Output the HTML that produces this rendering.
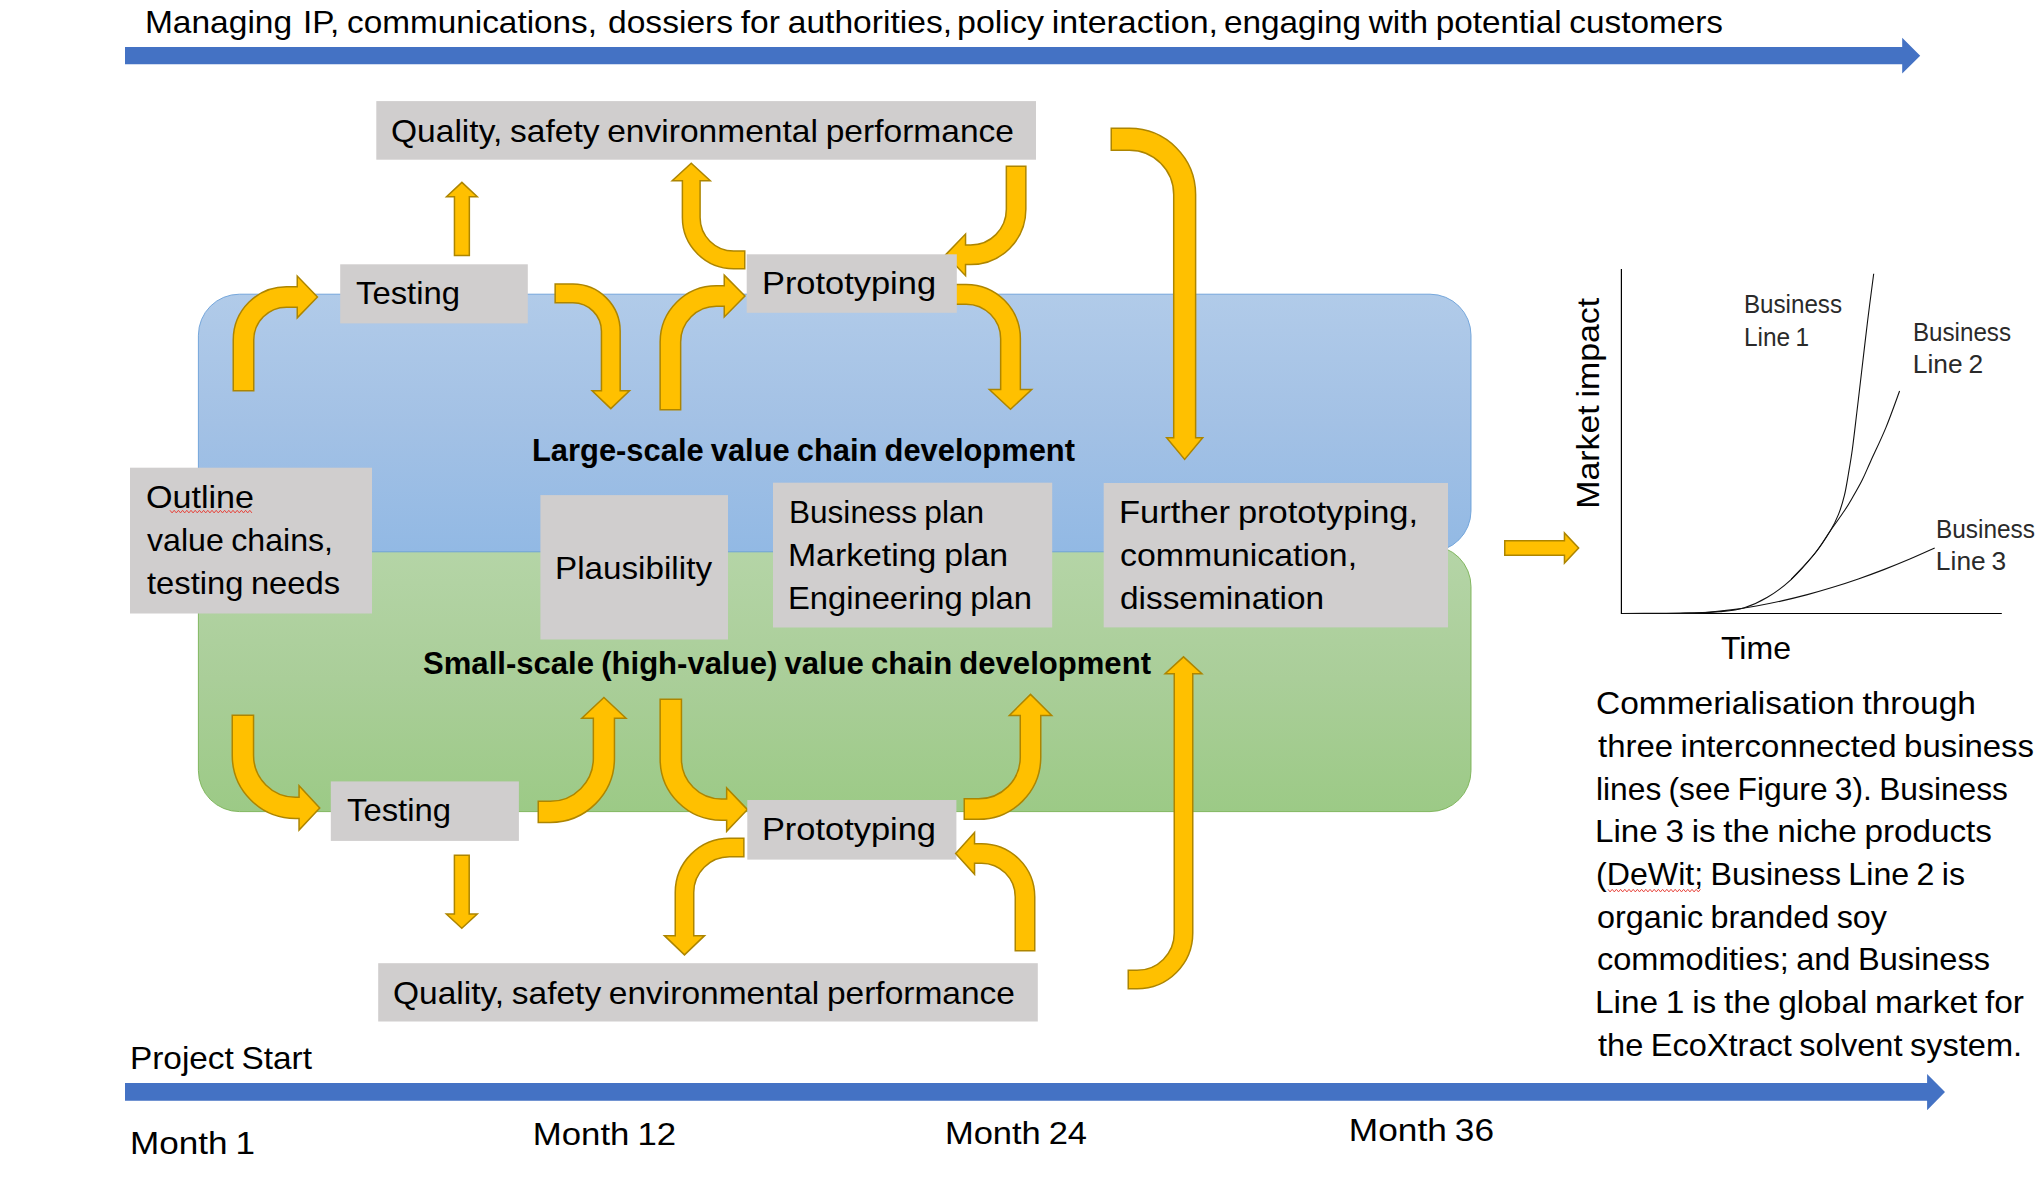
<!DOCTYPE html>
<html lang="en"><head><meta charset="utf-8"><title>Value chain development roadmap</title>
<style>html,body{margin:0;padding:0;background:#fff}body{width:2038px;height:1181px;overflow:hidden}svg{display:block}text{font-family:"Liberation Sans",sans-serif;fill:#000;word-spacing:-1.5px}.lb{fill:#2a2a2a}</style></head><body>
<svg width="2038" height="1181" viewBox="0 0 2038 1181">
<defs><linearGradient id="gb" x1="0" y1="0" x2="0" y2="1"><stop offset="0" stop-color="#B1CBE9"/><stop offset="0.5" stop-color="#A3C1E5"/><stop offset="1" stop-color="#92B9E4"/></linearGradient><linearGradient id="gg" x1="0" y1="0" x2="0" y2="1"><stop offset="0" stop-color="#B5D5A7"/><stop offset="0.5" stop-color="#AACE99"/><stop offset="1" stop-color="#9CCA86"/></linearGradient></defs>
<rect width="2038" height="1181" fill="#fff"/>
<rect x="198.4" y="545.6" width="1272.6" height="266" rx="41" ry="41" fill="url(#gg)" stroke="#78B153" stroke-width="0.9"/>
<rect x="198.4" y="294.2" width="1272.6" height="257.6" rx="41" ry="41" fill="url(#gb)" stroke="#6A9FD8" stroke-width="0.9"/>
<path d="M125 47.1H1902.2V37.7L1920.2 55.7L1902.2 73.6V64.3H125Z" fill="#4472C4"/>
<path d="M125 1083H1927.1V1073.9L1945 1092.1L1927.1 1110.2V1100.8H125Z" fill="#4472C4"/>
<g fill="#FFC000" stroke="#AD8500" stroke-width="1.5" stroke-linejoin="miter">
<path d="M233.25 390.65 L233.25 339.99 A53.25 53.25 0 0 1 286.5 286.74 L297.25 286.74 L297.25 276.1 L317.44 296.99 L297.25 317.88 L297.25 307.24 L286.5 307.24 A32.75 32.75 0 0 0 253.75 339.99 L253.75 390.65 Z"/>
<path d="M555.15 284.05 L572.91 284.05 A47.25 47.25 0 0 1 620.16 331.3 L620.16 390.75 L629.5 390.75 L610.81 408.64 L592.12 390.75 L601.46 390.75 L601.46 331.3 A28.55 28.55 0 0 0 572.91 302.75 L555.15 302.75 Z"/>
<path d="M660.15 409.65 L660.15 342.04 A56.25 56.25 0 0 1 716.4 285.79 L724.25 285.79 L724.25 275.1 L744.94 296.04 L724.25 316.98 L724.25 306.29 L716.4 306.29 A35.75 35.75 0 0 0 680.65 342.04 L680.65 409.65 Z"/>
<path d="M744.75 268.75 L733.64 268.75 A51.25 51.25 0 0 1 682.39 217.5 L682.39 180.75 L672.2 180.75 L691.24 163.26 L710.27 180.75 L700.09 180.75 L700.09 217.5 A33.55 33.55 0 0 0 733.64 251.05 L744.75 251.05 Z"/>
<path d="M1025.85 166.35 L1025.85 209.36 A55.25 55.25 0 0 1 970.6 264.61 L965.55 264.61 L965.55 275.7 L945.56 254.86 L965.55 234.02 L965.55 245.11 L970.6 245.11 A35.75 35.75 0 0 0 1006.35 209.36 L1006.35 166.35 Z"/>
<path d="M950.75 284.45 L966.11 284.45 A54.25 54.25 0 0 1 1020.36 338.7 L1020.36 389.45 L1031.7 389.45 L1010.51 409.24 L989.33 389.45 L1000.66 389.45 L1000.66 338.7 A34.55 34.55 0 0 0 966.11 304.15 L950.75 304.15 Z"/>
<path d="M1111.25 128.35 L1129.36 128.35 A66.25 66.25 0 0 1 1195.61 194.6 L1195.61 437.75 L1202.7 437.75 L1184.66 459.44 L1166.62 437.75 L1173.71 437.75 L1173.71 194.6 A44.35 44.35 0 0 0 1129.36 150.25 L1111.25 150.25 Z"/>
<path d="M232.25 715.25 L232.25 755.31 A63.25 63.25 0 0 0 295.5 818.56 L299.05 818.56 L299.05 830.1 L319.74 807.91 L299.05 785.73 L299.05 797.26 L295.5 797.26 A41.95 41.95 0 0 1 253.55 755.31 L253.55 715.25 Z"/>
<path d="M538.25 822.45 L550.21 822.45 A64.25 64.25 0 0 0 614.46 758.2 L614.46 718.15 L626 718.15 L603.91 697.56 L581.83 718.15 L593.36 718.15 L593.36 758.2 A43.15 43.15 0 0 1 550.21 801.35 L538.25 801.35 Z"/>
<path d="M660.15 699.25 L660.15 759.01 A61.25 61.25 0 0 0 721.4 820.26 L726.65 820.26 L726.65 831.3 L747.44 809.61 L726.65 787.93 L726.65 798.96 L721.4 798.96 A39.95 39.95 0 0 1 681.45 759.01 L681.45 699.25 Z"/>
<path d="M743.85 838.25 L729.49 838.25 A54.25 54.25 0 0 0 675.24 892.5 L675.24 935.65 L664.4 935.65 L684.49 954.84 L704.57 935.65 L693.74 935.65 L693.74 892.5 A35.75 35.75 0 0 1 729.49 856.75 L743.85 856.75 Z"/>
<path d="M964.25 819.35 L978.51 819.35 A62.25 62.25 0 0 0 1040.76 757.1 L1040.76 715.45 L1051.7 715.45 L1030.51 694.36 L1009.33 715.45 L1020.26 715.45 L1020.26 757.1 A41.75 41.75 0 0 1 978.51 798.85 L964.25 798.85 Z"/>
<path d="M1128.25 988.85 L1137.01 988.85 A55.75 55.75 0 0 0 1192.76 933.1 L1192.76 673.65 L1201.9 673.65 L1183.51 656.86 L1165.12 673.65 L1174.26 673.65 L1174.26 933.1 A37.25 37.25 0 0 1 1137.01 970.35 L1128.25 970.35 Z"/>
<path d="M454.45 255.45 L454.45 196.75 L446.51 196.75 L461.9 182.36 L477.29 196.75 L469.35 196.75 L469.35 255.45 Z"/>
<path d="M469.2 855.35 L469.2 914.05 L477.24 914.05 L461.8 928.24 L446.36 914.05 L454.4 914.05 L454.4 855.35 Z"/>
<path d="M1504.75 540.65 L1564.45 540.65 L1564.45 532.91 L1578.64 548 L1564.45 563.09 L1564.45 555.35 L1504.75 555.35 Z"/>
</g>
<g fill="#D0CECE">
<rect x="376.3" y="101.1" width="659.7" height="58.6"/>
<rect x="340.2" y="264.3" width="187.6" height="59.1"/>
<rect x="746.7" y="254.3" width="210.1" height="58.5"/>
<rect x="130" y="467.7" width="242" height="145.8"/>
<rect x="540.4" y="495.1" width="187.6" height="144.4"/>
<rect x="773" y="482.7" width="279.2" height="144.8"/>
<rect x="1103.7" y="483" width="344.3" height="144.4"/>
<rect x="330.8" y="781.4" width="188.1" height="59.5"/>
<rect x="747.3" y="800" width="209.1" height="59.6"/>
<rect x="378.2" y="963.2" width="659.6" height="58.3"/>
</g>
<g fill="#FFC000" stroke="#AD8500" stroke-width="1.5" stroke-linejoin="miter">
<path d="M1034.75 950.65 L1034.75 896.89 A53.25 53.25 0 0 0 981.5 843.64 L974.55 843.64 L974.55 832.5 L955.66 853.39 L974.55 874.27 L974.55 863.14 L981.5 863.14 A33.75 33.75 0 0 1 1015.25 896.89 L1015.25 950.65 Z"/>
</g>
<g fill="none" stroke="#111" stroke-width="1.1">
<path d="M1621.4 269V613.5H2001.8" stroke="#000" stroke-width="1.2"/>
<path d="M1622 613.5C1628.33 613.47 1648.67 613.4 1660 613.3C1671.33 613.2 1680 613.18 1690 612.9C1700 612.62 1711.05 612.42 1720 611.6C1728.95 610.78 1735.8 610.38 1743.7 608C1751.6 605.62 1759.5 602.03 1767.4 597.3C1775.3 592.57 1783.2 586.9 1791.1 579.6C1799 572.3 1808.28 561.6 1814.8 553.5C1821.32 545.4 1826.25 537.52 1830.2 531C1834.15 524.48 1836.13 520.33 1838.5 514.4C1840.87 508.47 1842.75 502.13 1844.4 495.4C1846.05 488.67 1847.07 481.73 1848.4 474C1849.73 466.27 1850.97 459.5 1852.4 449C1853.83 438.5 1855.48 423.7 1857 411C1858.52 398.3 1859.73 387.8 1861.5 372.8C1863.27 357.8 1865.57 337.52 1867.6 321C1869.63 304.48 1872.68 281.58 1873.7 273.7"/>
<path d="M1791.1 579.6C1795.05 575.25 1808.28 561.6 1814.8 553.5C1821.32 545.4 1825.27 538.12 1830.2 531C1835.13 523.88 1840.7 516.35 1844.4 510.8C1848.1 505.25 1849.43 502.83 1852.4 497.7C1855.37 492.57 1859.15 486.08 1862.2 480C1865.25 473.92 1866.75 469.93 1870.7 461.2C1874.65 452.47 1881.08 439.3 1885.9 427.6C1890.72 415.9 1897.32 397.1 1899.6 391"/>
<path d="M1680 613.5C1684.24 613.33 1696.98 613.06 1705.47 612.45C1713.96 611.85 1722.45 610.94 1730.94 609.86C1739.43 608.78 1747.92 607.46 1756.41 605.96C1764.9 604.46 1773.39 602.75 1781.88 600.86C1790.37 598.97 1798.86 596.89 1807.35 594.63C1815.84 592.38 1824.33 589.93 1832.82 587.32C1841.31 584.71 1849.8 581.92 1858.29 578.97C1866.78 576.02 1875.27 572.9 1883.76 569.62C1892.25 566.33 1900.74 562.88 1909.23 559.28C1917.72 555.67 1930.45 549.87 1934.7 547.98"/>
</g>
<text id="t0" x="144.94" y="32.9" font-size="31.4" font-weight="400" textLength="147.16" lengthAdjust="spacingAndGlyphs">Managing</text>
<text id="t1" x="302.91" y="32.9" font-size="31.4" font-weight="400" textLength="294.13" lengthAdjust="spacingAndGlyphs">IP, communications,</text>
<text id="t2" x="607.97" y="32.9" font-size="31.4" font-weight="400" textLength="344.05" lengthAdjust="spacingAndGlyphs">dossiers for authorities,</text>
<text id="t3" x="956.98" y="32.9" font-size="31.4" font-weight="400" textLength="261.09" lengthAdjust="spacingAndGlyphs">policy interaction,</text>
<text id="t4" x="1223.99" y="32.9" font-size="31.4" font-weight="400" textLength="499.02" lengthAdjust="spacingAndGlyphs">engaging with potential customers</text>
<text id="t5" x="391" y="141.6" font-size="31.4" font-weight="400" textLength="623.02" lengthAdjust="spacingAndGlyphs">Quality, safety environmental performance</text>
<text id="t6" x="355.98" y="303.7" font-size="31.4" font-weight="400" textLength="104.08" lengthAdjust="spacingAndGlyphs">Testing</text>
<text id="t7" x="761.93" y="294.2" font-size="31.4" font-weight="400" textLength="174.12" lengthAdjust="spacingAndGlyphs">Prototyping</text>
<text id="t8" x="531.99" y="460.5" font-size="31" font-weight="700" textLength="543.01" lengthAdjust="spacingAndGlyphs">Large-scale value chain development</text>
<text id="t9" x="145.95" y="508.4" font-size="31.4" font-weight="400" textLength="108.07" lengthAdjust="spacingAndGlyphs">Outline</text>
<text id="t10" x="146.99" y="551.1" font-size="31.4" font-weight="400" textLength="186.06" lengthAdjust="spacingAndGlyphs">value chains,</text>
<text id="t11" x="147" y="593.5" font-size="31.4" font-weight="400" textLength="193.04" lengthAdjust="spacingAndGlyphs">testing needs</text>
<text id="t12" x="554.96" y="578.5" font-size="31.4" font-weight="400" textLength="157.05" lengthAdjust="spacingAndGlyphs">Plausibility</text>
<text id="t13" x="788.98" y="523.4" font-size="31.4" font-weight="400" textLength="195.05" lengthAdjust="spacingAndGlyphs">Business plan</text>
<text id="t14" x="787.95" y="566.1" font-size="31.4" font-weight="400" textLength="220.11" lengthAdjust="spacingAndGlyphs">Marketing plan</text>
<text id="t15" x="787.93" y="609.2" font-size="31.4" font-weight="400" textLength="244.12" lengthAdjust="spacingAndGlyphs">Engineering plan</text>
<text id="t16" x="1118.96" y="523" font-size="31.4" font-weight="400" textLength="299.09" lengthAdjust="spacingAndGlyphs">Further prototyping,</text>
<text id="t17" x="1119.97" y="566.4" font-size="31.4" font-weight="400" textLength="237.1" lengthAdjust="spacingAndGlyphs">communication,</text>
<text id="t18" x="1119.97" y="609.4" font-size="31.4" font-weight="400" textLength="204.08" lengthAdjust="spacingAndGlyphs">dissemination</text>
<text id="t19" x="423" y="674" font-size="31" font-weight="700" textLength="728" lengthAdjust="spacingAndGlyphs">Small-scale (high-value) value chain development</text>
<text id="t20" x="346.97" y="821.3" font-size="31.4" font-weight="400" textLength="104.08" lengthAdjust="spacingAndGlyphs">Testing</text>
<text id="t21" x="761.91" y="840" font-size="31.4" font-weight="400" textLength="174.09" lengthAdjust="spacingAndGlyphs">Prototyping</text>
<text id="t22" x="392.99" y="1004.3" font-size="31.4" font-weight="400" textLength="622.02" lengthAdjust="spacingAndGlyphs">Quality, safety environmental performance</text>
<text id="t23" x="129.96" y="1069" font-size="31.4" font-weight="400" textLength="182.04" lengthAdjust="spacingAndGlyphs">Project Start</text>
<text id="t24" x="129.92" y="1154.4" font-size="31.4" font-weight="400" textLength="125.15" lengthAdjust="spacingAndGlyphs">Month 1</text>
<text id="t25" x="532.89" y="1145" font-size="31.4" font-weight="400" textLength="143.16" lengthAdjust="spacingAndGlyphs">Month 12</text>
<text id="t26" x="944.92" y="1144" font-size="31.4" font-weight="400" textLength="142.12" lengthAdjust="spacingAndGlyphs">Month 24</text>
<text id="t27" x="1348.88" y="1140.6" font-size="31.4" font-weight="400" textLength="145.17" lengthAdjust="spacingAndGlyphs">Month 36</text>
<text id="t28" x="1720.98" y="659" font-size="31.4" font-weight="400" textLength="70.07" lengthAdjust="spacingAndGlyphs">Time</text>
<text id="t29" x="1595.98" y="714.1" font-size="31.4" font-weight="400" textLength="380.02" lengthAdjust="spacingAndGlyphs">Commerialisation through</text>
<text id="t30" x="1598" y="756.7" font-size="31.4" font-weight="400" textLength="436" lengthAdjust="spacingAndGlyphs">three interconnected business</text>
<text id="t31" x="1595.98" y="799.8" font-size="31.4" font-weight="400" textLength="412.03" lengthAdjust="spacingAndGlyphs">lines (see Figure 3). Business</text>
<text id="t32" x="1594.97" y="842.1" font-size="31.4" font-weight="400" textLength="397.04" lengthAdjust="spacingAndGlyphs">Line 3 is the niche products</text>
<text id="t33" x="1595.99" y="884.8" font-size="31.4" font-weight="400" textLength="369.05" lengthAdjust="spacingAndGlyphs">(DeWit; Business Line 2 is</text>
<text id="t34" x="1597" y="927.8" font-size="31.4" font-weight="400" textLength="290.01" lengthAdjust="spacingAndGlyphs">organic branded soy</text>
<text id="t35" x="1597" y="970.1" font-size="31.4" font-weight="400" textLength="393.01" lengthAdjust="spacingAndGlyphs">commodities; and Business</text>
<text id="t36" x="1594.98" y="1013.2" font-size="31.4" font-weight="400" textLength="429.03" lengthAdjust="spacingAndGlyphs">Line 1 is the global market for</text>
<text id="t37" x="1598" y="1055.8" font-size="31.4" font-weight="400" textLength="424.04" lengthAdjust="spacingAndGlyphs">the EcoXtract solvent system.</text>
<text id="t38" class="lb" x="1743.95" y="313.2" font-size="25.4" textLength="98.08" lengthAdjust="spacingAndGlyphs">Business</text>
<text id="t39" class="lb" x="1743.92" y="345.7" font-size="25.4" textLength="65.15" lengthAdjust="spacingAndGlyphs">Line 1</text>
<text id="t40" class="lb" x="1912.92" y="340.5" font-size="25.4" textLength="98.15" lengthAdjust="spacingAndGlyphs">Business</text>
<text id="t41" class="lb" x="1912.85" y="372.5" font-size="25.4" textLength="70.21" lengthAdjust="spacingAndGlyphs">Line 2</text>
<text id="t42" class="lb" x="1935.9" y="538" font-size="25.4" textLength="99.08" lengthAdjust="spacingAndGlyphs">Business</text>
<text id="t43" class="lb" x="1935.89" y="569.6" font-size="25.4" textLength="70.23" lengthAdjust="spacingAndGlyphs">Line 3</text>
<text transform="translate(1598.8 508.8) rotate(-90)" x="0" y="0" font-size="31.4" textLength="211" lengthAdjust="spacingAndGlyphs">Market impact</text>
<path d="M170 510.3 L172.1 512.9 L174.2 510.3 L176.3 512.9 L178.4 510.3 L180.5 512.9 L182.6 510.3 L184.7 512.9 L186.8 510.3 L188.9 512.9 L191 510.3 L193.1 512.9 L195.2 510.3 L197.3 512.9 L199.4 510.3 L201.5 512.9 L203.6 510.3 L205.7 512.9 L207.8 510.3 L209.9 512.9 L212 510.3 L214.1 512.9 L216.2 510.3 L218.3 512.9 L220.4 510.3 L222.5 512.9 L224.6 510.3 L226.7 512.9 L228.8 510.3 L230.9 512.9 L233 510.3 L235.1 512.9 L237.2 510.3 L239.3 512.9 L241.4 510.3 L243.5 512.9 L245.6 510.3 L247.7 512.9 L249.8 510.3 L251.9 512.9" fill="none" stroke="#E8423A" stroke-width="1"/>
<path d="M1608 889.3 L1610.1 891.9 L1612.2 889.3 L1614.3 891.9 L1616.4 889.3 L1618.5 891.9 L1620.6 889.3 L1622.7 891.9 L1624.8 889.3 L1626.9 891.9 L1629 889.3 L1631.1 891.9 L1633.2 889.3 L1635.3 891.9 L1637.4 889.3 L1639.5 891.9 L1641.6 889.3 L1643.7 891.9 L1645.8 889.3 L1647.9 891.9 L1650 889.3 L1652.1 891.9 L1654.2 889.3 L1656.3 891.9 L1658.4 889.3 L1660.5 891.9 L1662.6 889.3 L1664.7 891.9 L1666.8 889.3 L1668.9 891.9 L1671 889.3 L1673.1 891.9 L1675.2 889.3 L1677.3 891.9 L1679.4 889.3 L1681.5 891.9 L1683.6 889.3 L1685.7 891.9 L1687.8 889.3 L1689.9 891.9 L1692 889.3 L1694.1 891.9 L1696.2 889.3 L1698.3 891.9 L1700.4 889.3" fill="none" stroke="#E8423A" stroke-width="1"/>
</svg></body></html>
